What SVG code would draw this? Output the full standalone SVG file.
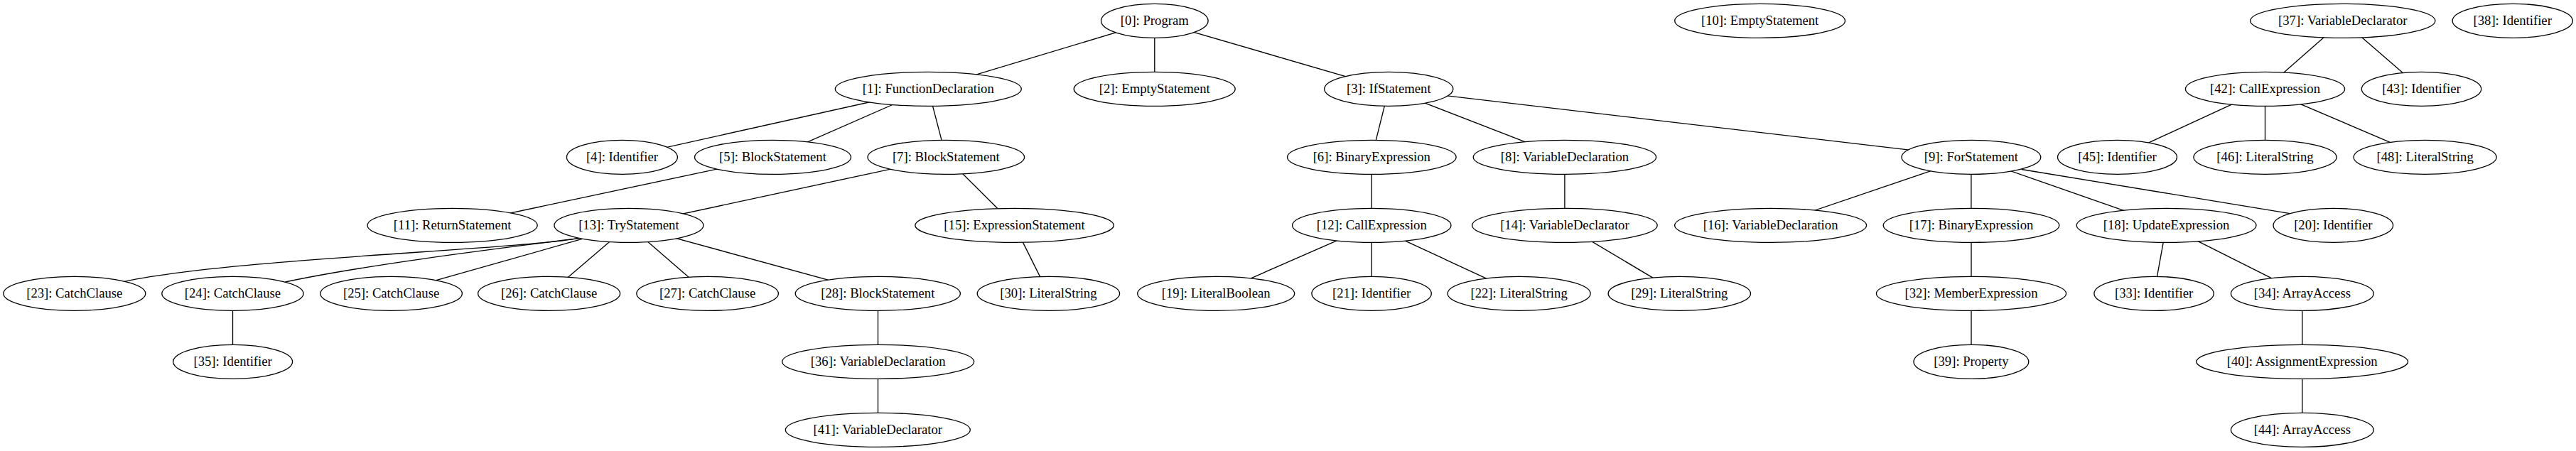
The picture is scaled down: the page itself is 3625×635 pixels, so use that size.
<svg xmlns="http://www.w3.org/2000/svg" width="3625" height="635" viewBox="0 0 3625 635">
<style>
.n ellipse{fill:#fff;stroke:#000;stroke-width:1.33}
.n text{font-family:"Liberation Serif","Times New Roman",serif;font-size:18.67px;text-anchor:middle;fill:#000}
#edges line,#edges path{stroke:#000;stroke-width:1.33;fill:none}
</style>
<rect width="3625" height="635" fill="#fff"/>
<g id="edges">
<line x1="1624.8" y1="29.33" x2="1306.3" y2="125.33"/>
<line x1="1624.8" y1="29.33" x2="1624.8" y2="125.33"/>
<line x1="1624.8" y1="29.33" x2="1954.3" y2="125.33"/>
<line x1="1306.3" y1="125.33" x2="875.4" y2="221.33"/>
<line x1="1306.3" y1="125.33" x2="1087.5" y2="221.33"/>
<line x1="1306.3" y1="125.33" x2="1331.3" y2="221.33"/>
<line x1="1087.5" y1="221.33" x2="636.6" y2="317.33"/>
<line x1="1331.3" y1="221.33" x2="884.9" y2="317.33"/>
<line x1="1331.3" y1="221.33" x2="1427.6" y2="317.33"/>
<line x1="1954.3" y1="125.33" x2="1930.3" y2="221.33"/>
<line x1="1954.3" y1="125.33" x2="2201.9" y2="221.33"/>
<line x1="1954.3" y1="125.33" x2="2773.9" y2="221.33"/>
<line x1="1930.3" y1="221.33" x2="1930.3" y2="317.33"/>
<line x1="2201.9" y1="221.33" x2="2201.9" y2="317.33"/>
<line x1="2773.9" y1="221.33" x2="2491.6" y2="317.33"/>
<line x1="2773.9" y1="221.33" x2="2773.9" y2="317.33"/>
<line x1="2773.9" y1="221.33" x2="3048.6" y2="317.33"/>
<path d="M2844.8,238.5 L3222.5,300.6"/>
<path d="M815.5,335.4 C720,352 330,364 175.2,396.3"/>
<path d="M815.5,335.4 C700,350 520,372 401.3,397"/>
<line x1="820.2" y1="336.2" x2="613.8" y2="394.6"/>
<line x1="884.9" y1="317.33" x2="772.6" y2="413.33"/>
<line x1="884.9" y1="317.33" x2="995.6" y2="413.33"/>
<line x1="884.9" y1="317.33" x2="1235.3" y2="413.33"/>
<line x1="1427.6" y1="317.33" x2="1475.4" y2="413.33"/>
<line x1="1930.3" y1="317.33" x2="1711.2" y2="413.33"/>
<line x1="1930.3" y1="317.33" x2="1930.3" y2="413.33"/>
<line x1="1930.3" y1="317.33" x2="2137.6" y2="413.33"/>
<line x1="2201.9" y1="317.33" x2="2363.3" y2="413.33"/>
<line x1="2774" y1="317.33" x2="2774" y2="413.33"/>
<line x1="3048.6" y1="317.33" x2="3031.1" y2="413.33"/>
<line x1="3048.6" y1="317.33" x2="3239.8" y2="413.33"/>
<line x1="327.5" y1="413.33" x2="327.5" y2="509.33"/>
<line x1="1235.5" y1="413.33" x2="1235.5" y2="509.33"/>
<line x1="2774" y1="413.33" x2="2774" y2="509.33"/>
<line x1="3239.8" y1="413.33" x2="3239.8" y2="509.33"/>
<line x1="1235.5" y1="509.33" x2="1235.5" y2="605.33"/>
<line x1="3239.8" y1="509.33" x2="3239.8" y2="605.33"/>
<line x1="3296.8" y1="29.33" x2="3187.5" y2="125.33"/>
<line x1="3296.8" y1="29.33" x2="3407.5" y2="125.33"/>
<line x1="3187.5" y1="125.33" x2="2979.5" y2="221.33"/>
<line x1="3187.5" y1="125.33" x2="3187.5" y2="221.33"/>
<line x1="3187.5" y1="125.33" x2="3412.6" y2="221.33"/>
</g>
<g id="n0" class="n"><ellipse cx="1624.8" cy="29.33" rx="75.3" ry="24"/><text x="1624.8" y="34.93">[0]: Program</text></g>
<g id="n10" class="n"><ellipse cx="2476.6" cy="29.33" rx="119.9" ry="24"/><text x="2476.6" y="34.93">[10]: EmptyStatement</text></g>
<g id="n37" class="n"><ellipse cx="3296.8" cy="29.33" rx="130.1" ry="24"/><text x="3296.8" y="34.93">[37]: VariableDeclarator</text></g>
<g id="n38" class="n"><ellipse cx="3535.7" cy="29.33" rx="84.6" ry="24"/><text x="3535.7" y="34.93">[38]: Identifier</text></g>
<g id="n1" class="n"><ellipse cx="1306.3" cy="125.33" rx="131" ry="24"/><text x="1306.3" y="130.93">[1]: FunctionDeclaration</text></g>
<g id="n2" class="n"><ellipse cx="1624.7" cy="125.33" rx="113.5" ry="24"/><text x="1624.7" y="130.93">[2]: EmptyStatement</text></g>
<g id="n3" class="n"><ellipse cx="1954.3" cy="125.33" rx="90.6" ry="24"/><text x="1954.3" y="130.93">[3]: IfStatement</text></g>
<g id="n42" class="n"><ellipse cx="3187.5" cy="125.33" rx="112.1" ry="24"/><text x="3187.5" y="130.93">[42]: CallExpression</text></g>
<g id="n43" class="n"><ellipse cx="3407.5" cy="125.33" rx="84.2" ry="24"/><text x="3407.5" y="130.93">[43]: Identifier</text></g>
<g id="n4" class="n"><ellipse cx="875.4" cy="221.33" rx="78" ry="24"/><text x="875.4" y="226.93">[4]: Identifier</text></g>
<g id="n5" class="n"><ellipse cx="1087.5" cy="221.33" rx="110" ry="24"/><text x="1087.5" y="226.93">[5]: BlockStatement</text></g>
<g id="n7" class="n"><ellipse cx="1331.3" cy="221.33" rx="110.3" ry="24"/><text x="1331.3" y="226.93">[7]: BlockStatement</text></g>
<g id="n6" class="n"><ellipse cx="1930.3" cy="221.33" rx="118.8" ry="24"/><text x="1930.3" y="226.93">[6]: BinaryExpression</text></g>
<g id="n8" class="n"><ellipse cx="2201.9" cy="221.33" rx="128.7" ry="24"/><text x="2201.9" y="226.93">[8]: VariableDeclaration</text></g>
<g id="n9" class="n"><ellipse cx="2773.9" cy="221.33" rx="97.9" ry="24"/><text x="2773.9" y="226.93">[9]: ForStatement</text></g>
<g id="n45" class="n"><ellipse cx="2979.5" cy="221.33" rx="84" ry="24"/><text x="2979.5" y="226.93">[45]: Identifier</text></g>
<g id="n46" class="n"><ellipse cx="3187.5" cy="221.33" rx="100.6" ry="24"/><text x="3187.5" y="226.93">[46]: LiteralString</text></g>
<g id="n48" class="n"><ellipse cx="3412.6" cy="221.33" rx="100.5" ry="24"/><text x="3412.6" y="226.93">[48]: LiteralString</text></g>
<g id="n11" class="n"><ellipse cx="636.6" cy="317.33" rx="119.6" ry="24"/><text x="636.6" y="322.93">[11]: ReturnStatement</text></g>
<g id="n13" class="n"><ellipse cx="884.9" cy="317.33" rx="105" ry="24"/><text x="884.9" y="322.93">[13]: TryStatement</text></g>
<g id="n15" class="n"><ellipse cx="1427.6" cy="317.33" rx="139.8" ry="24"/><text x="1427.6" y="322.93">[15]: ExpressionStatement</text></g>
<g id="n12" class="n"><ellipse cx="1930.3" cy="317.33" rx="111.7" ry="24"/><text x="1930.3" y="322.93">[12]: CallExpression</text></g>
<g id="n14" class="n"><ellipse cx="2201.9" cy="317.33" rx="130.3" ry="24"/><text x="2201.9" y="322.93">[14]: VariableDeclarator</text></g>
<g id="n16" class="n"><ellipse cx="2491.6" cy="317.33" rx="135" ry="24"/><text x="2491.6" y="322.93">[16]: VariableDeclaration</text></g>
<g id="n17" class="n"><ellipse cx="2774" cy="317.33" rx="123.8" ry="24"/><text x="2774" y="322.93">[17]: BinaryExpression</text></g>
<g id="n18" class="n"><ellipse cx="3048.6" cy="317.33" rx="126.4" ry="24"/><text x="3048.6" y="322.93">[18]: UpdateExpression</text></g>
<g id="n20" class="n"><ellipse cx="3283.3" cy="317.33" rx="84.3" ry="24"/><text x="3283.3" y="322.93">[20]: Identifier</text></g>
<g id="n23" class="n"><ellipse cx="104.8" cy="413.33" rx="100" ry="24"/><text x="104.8" y="418.93">[23]: CatchClause</text></g>
<g id="n24" class="n"><ellipse cx="327.4" cy="413.33" rx="99.6" ry="24"/><text x="327.4" y="418.93">[24]: CatchClause</text></g>
<g id="n25" class="n"><ellipse cx="550.6" cy="413.33" rx="99.8" ry="24"/><text x="550.6" y="418.93">[25]: CatchClause</text></g>
<g id="n26" class="n"><ellipse cx="772.6" cy="413.33" rx="100" ry="24"/><text x="772.6" y="418.93">[26]: CatchClause</text></g>
<g id="n27" class="n"><ellipse cx="995.6" cy="413.33" rx="99.8" ry="24"/><text x="995.6" y="418.93">[27]: CatchClause</text></g>
<g id="n28" class="n"><ellipse cx="1235.3" cy="413.33" rx="116.1" ry="24"/><text x="1235.3" y="418.93">[28]: BlockStatement</text></g>
<g id="n30" class="n"><ellipse cx="1475.4" cy="413.33" rx="100.2" ry="24"/><text x="1475.4" y="418.93">[30]: LiteralString</text></g>
<g id="n19" class="n"><ellipse cx="1711.2" cy="413.33" rx="110.5" ry="24"/><text x="1711.2" y="418.93">[19]: LiteralBoolean</text></g>
<g id="n21" class="n"><ellipse cx="1930.1" cy="413.33" rx="84.2" ry="24"/><text x="1930.1" y="418.93">[21]: Identifier</text></g>
<g id="n22" class="n"><ellipse cx="2137.6" cy="413.33" rx="100.5" ry="24"/><text x="2137.6" y="418.93">[22]: LiteralString</text></g>
<g id="n29" class="n"><ellipse cx="2363.3" cy="413.33" rx="100.2" ry="24"/><text x="2363.3" y="418.93">[29]: LiteralString</text></g>
<g id="n32" class="n"><ellipse cx="2774" cy="413.33" rx="133.6" ry="24"/><text x="2774" y="418.93">[32]: MemberExpression</text></g>
<g id="n33" class="n"><ellipse cx="3031.1" cy="413.33" rx="84.2" ry="24"/><text x="3031.1" y="418.93">[33]: Identifier</text></g>
<g id="n34" class="n"><ellipse cx="3239.8" cy="413.33" rx="100.4" ry="24"/><text x="3239.8" y="418.93">[34]: ArrayAccess</text></g>
<g id="n35" class="n"><ellipse cx="327.6" cy="509.33" rx="84" ry="24"/><text x="327.6" y="514.93">[35]: Identifier</text></g>
<g id="n36" class="n"><ellipse cx="1235.7" cy="509.33" rx="135" ry="24"/><text x="1235.7" y="514.93">[36]: VariableDeclaration</text></g>
<g id="n39" class="n"><ellipse cx="2773.9" cy="509.33" rx="80.9" ry="24"/><text x="2773.9" y="514.93">[39]: Property</text></g>
<g id="n40" class="n"><ellipse cx="3239.7" cy="509.33" rx="148.9" ry="24"/><text x="3239.7" y="514.93">[40]: AssignmentExpression</text></g>
<g id="n41" class="n"><ellipse cx="1235.3" cy="605.33" rx="130" ry="24"/><text x="1235.3" y="610.93">[41]: VariableDeclarator</text></g>
<g id="n44" class="n"><ellipse cx="3239.8" cy="605.33" rx="100.4" ry="24"/><text x="3239.8" y="610.93">[44]: ArrayAccess</text></g>
</svg>
